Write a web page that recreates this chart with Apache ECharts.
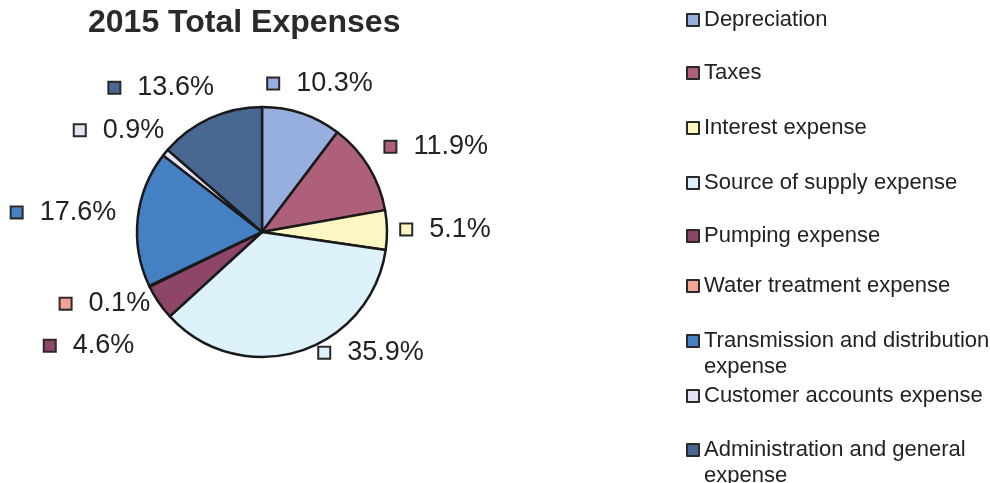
<!DOCTYPE html>
<html><head><meta charset="utf-8">
<script src="https://cdn.jsdelivr.net/npm/echarts@6/dist/echarts.min.js"></script>
<style>html,body{margin:0;padding:0;background:#fff}#c{width:990px;height:483px}</style>
</head><body><div id="c"></div>
<script>
// ---- data ----
const chartTitle = '2015 Total Expenses';
const categories = ['Depreciation', 'Taxes', 'Interest expense', 'Source of supply expense', 'Pumping expense', 'Water treatment expense', 'Transmission and distribution expense', 'Customer accounts expense', 'Administration and general expense'];
const legendLabels = ['Depreciation', 'Taxes', 'Interest expense', 'Source of supply expense', 'Pumping expense', 'Water treatment expense', 'Transmission and distribution\nexpense', 'Customer accounts expense', 'Administration and general\nexpense'];
const shares = [10.3, 11.9, 5.1, 35.9, 4.6, 0.1, 17.6, 0.9, 13.6];

// ---- styles ----
const colors = ['#97AFDF', '#AE5F7A', '#FDF5C2', '#DDF1FA', '#8E4668', '#F2A393', '#4580C2', '#E6E3F6', '#486892'];
const labelNudge = [[6, 8], [34, 1], [19, 0], [61, -37], [-36, 21], [-8, 0], [-34, -2], [-15, 3], [-32, 6]];
const legendTops = [7, 60, 115, 170, 223, 273, 302, 383, 411];
const FONT = '"Liberation Sans", Arial, Helvetica, sans-serif';

const chart = echarts.init(document.getElementById('c'));

const pieData = categories.map((name, i) => ({
  name: name,
  value: shares[i],
  itemStyle: { color: colors[i] },
  label: {
    rich: {
      sq: { width: 10, height: 10, backgroundColor: colors[i], borderColor: '#2a2a2a', borderWidth: 2 },
      t: { fontSize: 27, color: '#222', fontFamily: FONT, padding: [0, 0, 0, 18] }
    }
  }
}));

const legends = categories.map((name, i) => {
  const wrapped = legendLabels[i].indexOf('\n') >= 0;
  return {
    data: [name],
    left: 686,
    top: legendTops[i],
    orient: 'vertical',
    padding: 0,
    itemWidth: 12,
    itemHeight: 12,
    icon: 'rect',
    selectedMode: false,
    itemStyle: { borderColor: '#2a2a2a', borderWidth: 2 },
    // a leading blank line keeps the icon level with the first text line
    formatter: () => (wrapped ? '\n' : '') + legendLabels[i],
    textStyle: { fontSize: 22, color: '#222', fontFamily: FONT, lineHeight: 26 }
  };
});

chart.setOption({
  animation: false,
  title: {
    text: chartTitle,
    left: 88,
    top: 7,
    padding: 0,
    textStyle: { fontSize: 32, fontWeight: 'bold', color: '#2a2a2a', fontFamily: FONT }
  },
  legend: legends,
  series: [{
    type: 'pie',
    center: [262, 232],
    radius: 125,
    startAngle: 90,
    clockwise: true,
    avoidLabelOverlap: false,
    itemStyle: { borderColor: '#1a1a1a', borderWidth: 2.5 },
    label: {
      show: true,
      position: 'outside',
      distanceToLabelLine: 0,
      formatter: p => '{sq|}{t|' + p.value.toFixed(1) + '%}'
    },
    labelLine: { show: false, length: 40, length2: 0 },
    labelLayout: params => {
      const n = labelNudge[params.dataIndex];
      return { align: 'center', verticalAlign: 'middle', dx: n[0], dy: n[1] };
    },
    emphasis: { disabled: true },
    data: pieData
  }]
});
</script>
</body></html>
